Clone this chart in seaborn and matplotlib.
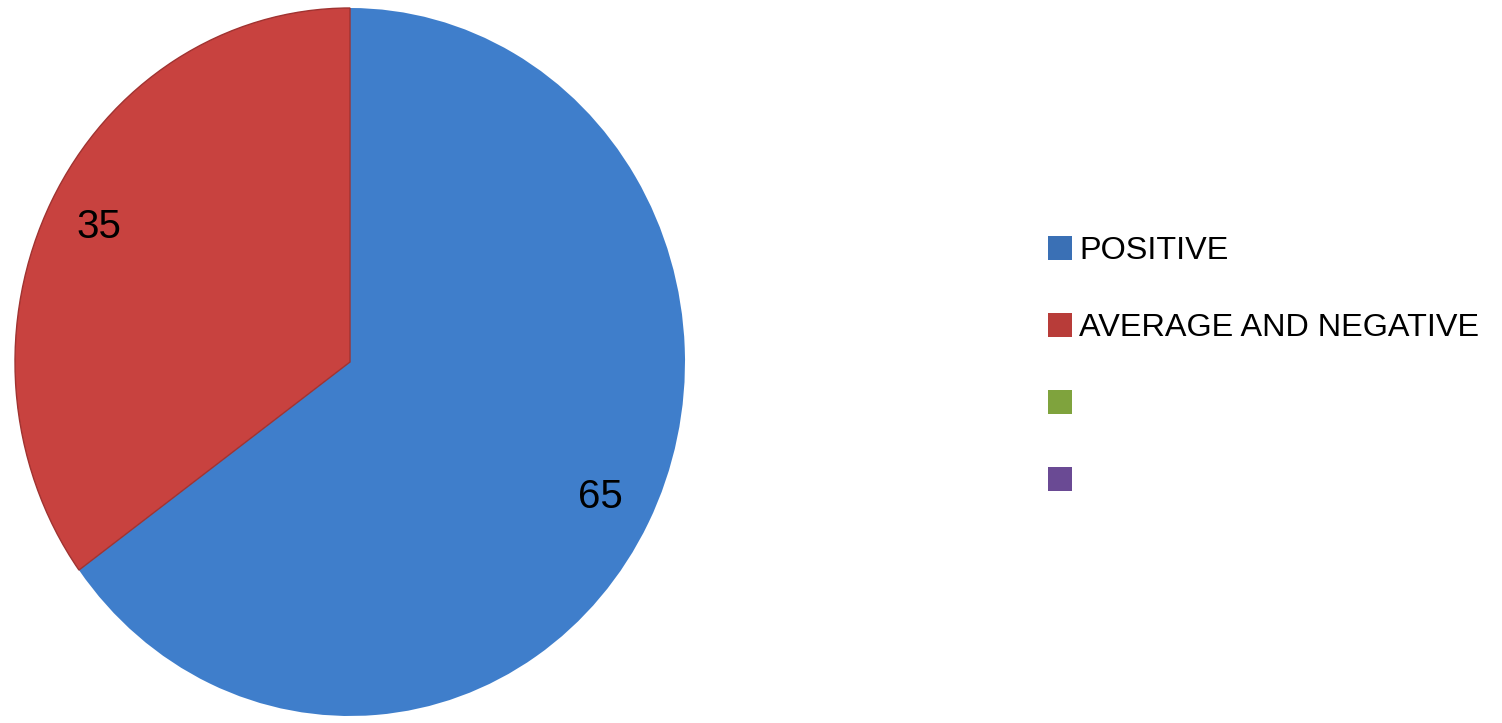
import matplotlib
matplotlib.use("Agg")
import matplotlib.pyplot as plt
import matplotlib.patches as mpatches
import seaborn as sns

# Data
categories = ["POSITIVE", "AVERAGE AND NEGATIVE"]
values = [65, 35]
extra_legend_labels = ["", ""]

slice_colors = ["#3F7ECB", "#C8423F"]
extra_colors = ["#7FA33D", "#6A4A94"]
legend_colors = ["#3A70B5", "#B83C39"]

sns.set_theme(style="white")
plt.rcParams["font.family"] = ["Liberation Sans", "DejaVu Sans"]

fig = plt.figure(figsize=(15.02, 7.23), dpi=100)
fig.patch.set_facecolor("white")

W, H = 1502, 723
cx, cy, rx, ry = 350, 362, 335, 354
ax = fig.add_axes([(cx - rx) / W, (H - cy - ry) / H, 2 * rx / W, 2 * ry / H])

total = sum(values)
wedges, texts, autotexts = ax.pie(
    values,
    colors=slice_colors,
    startangle=90,
    counterclock=False,
    radius=1.0,
    autopct=lambda p: f"{p * total / 100:.0f}",
    pctdistance=0.84,
    wedgeprops=dict(edgecolor="none", linewidth=0),
    textprops=dict(fontsize=29, color="black"),
)
ax.set_aspect("auto")
ax.set_xlim(-1.0, 1.0)
ax.set_ylim(-1.0, 1.0)
ax.axis("off")

# thin dark separator on the red side of the slice boundaries
for w in wedges[1:]:
    w.set_edgecolor("#A03331")
    w.set_linewidth(1.0)
    w.set_zorder(3)

handles = [
    mpatches.Patch(facecolor=c, edgecolor="none") for c in legend_colors + extra_colors
]
labels = categories + [" " for _ in extra_legend_labels]

leg = fig.legend(
    handles,
    labels,
    loc="center left",
    bbox_to_anchor=(1048 / W, 1 - 366.5 / H),
    frameon=False,
    prop=dict(family=["Liberation Sans"], size=23.3),
    handlelength=0.75,
    handleheight=0.75,
    handletextpad=0.22,
    labelspacing=1.45,
    borderpad=0,
    borderaxespad=0,
)
for t in leg.get_texts():
    t.set_color("black")

fig.savefig("out.png", dpi=100, facecolor="white")
